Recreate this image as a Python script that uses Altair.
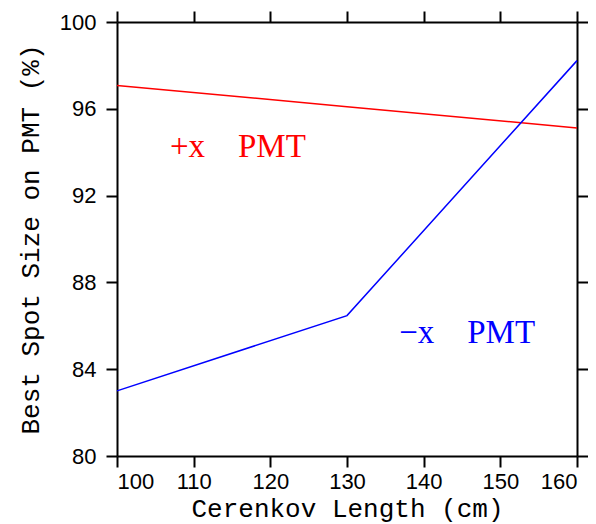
import altair as alt
import pandas as pd

# data
length_cm = [100, 130, 160]
plus_x = [97.07, 96.10, 95.12]
minus_x = [83.00, 86.47, 98.22]

series_names = ["+x PMT", "\u2212x PMT"]
series_colors = ["#ff0000", "#0000ff"]

label_text = ["+x\u00a0\u00a0\u00a0\u00a0PMT", "\u2212x\u00a0\u00a0\u00a0\u00a0PMT"]
label_x = [106.9, 136.8]
label_y = [93.79, 85.19]

x_ticks = [100, 110, 120, 130, 140, 150, 160]
y_ticks = [80, 84, 88, 92, 96, 100]

rows = []
for s, vals in zip(series_names, [plus_x, minus_x]):
    for x, y in zip(length_cm, vals):
        rows.append({"series": s, "x": x, "y": y})
df = pd.DataFrame(rows)
labels = pd.DataFrame({"series": series_names, "text": label_text, "x": label_x, "y": label_y})

xs = alt.Scale(domain=[100, 160], nice=False, zero=False)
ys = alt.Scale(domain=[80, 100], nice=False, zero=False)
cs = alt.Scale(domain=series_names, range=series_colors)

tick_font = "Liberation Sans"
title_font = "Liberation Mono"

common_axis = dict(
    domainColor="black", domainWidth=2, tickColor="black", tickWidth=2,
    tickSize=11, grid=False, labelColor="black", labelFont=tick_font,
    labelFontSize=22, titleColor="black", titleFont=title_font,
    titleFontSize=26, titleFontWeight="normal",
)
frame_axis = {k: v for k, v in common_axis.items() if not k.startswith("title")}

x_bottom = alt.Axis(orient="bottom", values=x_ticks, title="Cerenkov Length (cm)",
                    labelPadding=4, titlePadding=3, **common_axis)
y_left = alt.Axis(orient="left", values=y_ticks, title="Best Spot Size on PMT (%)",
                  labelPadding=10, titlePadding=16, **common_axis)
x_top = alt.Axis(orient="top", values=x_ticks, labels=False, title=None, **frame_axis)
y_right = alt.Axis(orient="right", values=y_ticks, labels=False, title=None, **frame_axis)

lines = alt.Chart(df).mark_line(strokeWidth=1.5).encode(
    x=alt.X("x:Q", scale=xs, axis=x_bottom),
    y=alt.Y("y:Q", scale=ys, axis=y_left),
    color=alt.Color("series:N", scale=cs, legend=None),
    detail="series:N",
)

frame = alt.Chart(df).mark_line(opacity=0).encode(
    x=alt.X("x:Q", scale=xs, axis=x_top),
    y=alt.Y("y:Q", scale=ys, axis=y_right),
    detail="series:N",
)

texts = alt.Chart(labels).mark_text(
    font="Liberation Serif", fontSize=33, align="left", baseline="alphabetic"
).encode(
    x=alt.X("x:Q", scale=xs, axis=None),
    y=alt.Y("y:Q", scale=ys, axis=None),
    text="text:N",
    color=alt.Color("series:N", scale=cs, legend=None),
)

chart = alt.layer(lines, frame, texts).resolve_axis(
    x="independent", y="independent"
).properties(
    width=460, height=434,
    autosize=alt.AutoSizeParams(type="none"),
    padding={"left": 109, "top": 14, "right": 11, "bottom": 68},
).configure_view(stroke=None).configure(background="white")

chart.save("out.html", embed_options={"renderer": "svg", "actions": False})
